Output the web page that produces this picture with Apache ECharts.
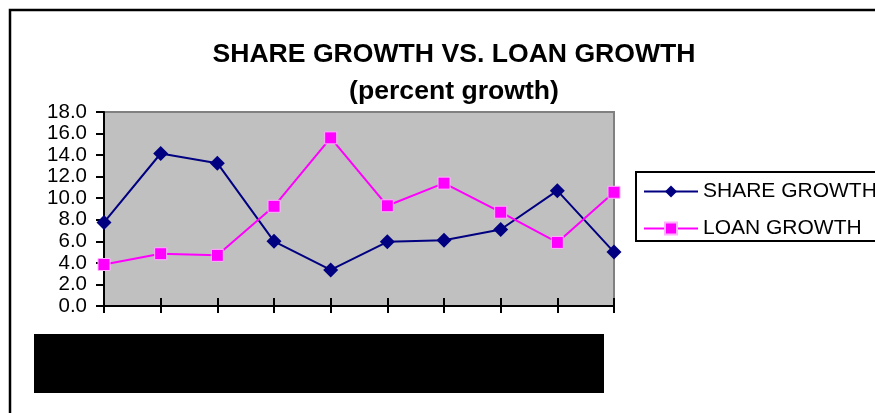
<!DOCTYPE html>
<html>
<head>
<meta charset="utf-8">
<script src="https://cdn.jsdelivr.net/npm/echarts@6/dist/echarts.min.js"></script>
<style>
  html, body { margin: 0; padding: 0; background: #fff; }
  #chart { width: 875px; height: 413px; }
</style>
</head>
<body>
<div id="chart"></div>
<script>
// periods (the original labels are unreadable pictures)
var periods = ['1', '2', '3', '4', '5', '6', '7', '8', '9', '10'];
var shareGrowth = [7.75, 14.15, 13.25, 6.0, 3.35, 5.95, 6.1, 7.1, 10.7, 5.0];
var loanGrowth = [3.85, 4.85, 4.7, 9.25, 15.6, 9.3, 11.4, 8.7, 5.9, 10.55];
var yTicks = { min: 0, max: 18, interval: 2 };

var chart = echarts.init(document.getElementById('chart'));
var font = 'Liberation Sans, Arial, sans-serif';

var option = {
  animation: false,
  title: [
    {
      text: 'SHARE GROWTH VS. LOAN GROWTH',
      left: 449, top: 36, textAlign: 'center',
      textStyle: { fontFamily: font, fontSize: 26.6, fontWeight: 'bold', color: '#000' }
    },
    {
      text: '(percent growth)',
      left: 449, top: 73, textAlign: 'center',
      textStyle: { fontFamily: font, fontSize: 26.6, fontWeight: 'bold', color: '#000' }
    }
  ],
  legend: {
    orient: 'vertical',
    left: 636, top: 172,
    padding: [9, 30, 2, 7],
    itemGap: 16,
    itemWidth: 54, itemHeight: 15,
    borderColor: '#000', borderWidth: 2,
    textStyle: { fontFamily: font, fontSize: 21, color: '#000' },
    data: ['SHARE GROWTH', 'LOAN GROWTH']
  },
  grid: {
    left: 104, top: 112, right: 261, bottom: 107,
    show: true, backgroundColor: '#c0c0c0', borderColor: '#808080', borderWidth: 2
  },
  xAxis: [
    {
      type: 'category', data: periods, boundaryGap: false,
      axisLine: { lineStyle: { color: '#000', width: 2 } },
      axisTick: { show: true, length: 7, lineStyle: { color: '#000', width: 2 } },
      axisLabel: { show: false },
      splitLine: { show: false }
    },
    {
      type: 'category', data: periods, boundaryGap: false, position: 'bottom',
      axisLine: { show: false },
      axisTick: { show: true, inside: true, length: 8, lineStyle: { color: '#000', width: 2 } },
      axisLabel: { show: false },
      splitLine: { show: false }
    }
  ],
  yAxis: {
    type: 'value', min: yTicks.min, max: yTicks.max, interval: yTicks.interval,
    axisLine: { show: true, lineStyle: { color: '#000', width: 2 } },
    axisTick: { show: true, length: 8, lineStyle: { color: '#000', width: 2 } },
    axisLabel: {
      margin: 17, fontFamily: font, fontSize: 20.5, color: '#000',
      formatter: function (v) { return v.toFixed(1); }
    },
    splitLine: { show: false }
  },
  series: [
    {
      name: 'SHARE GROWTH', type: 'line', data: shareGrowth,
      symbol: 'diamond', symbolSize: 15,
      lineStyle: { color: '#000080', width: 2 },
      itemStyle: { color: '#000080' }
    },
    {
      name: 'LOAN GROWTH', type: 'line', data: loanGrowth,
      symbol: 'rect', symbolSize: 12,
      lineStyle: { color: '#ff00ff', width: 2 },
      itemStyle: { color: '#ff00ff', borderColor: '#ffb0ff', borderWidth: 1 }
    }
  ],
  graphic: [
    {
      type: 'rect', silent: true,
      shape: { x: 10, y: 10, width: 900, height: 450 },
      style: { fill: null, stroke: '#000', lineWidth: 2.5 }
    },
    {
      // picture strip where the category labels were
      type: 'rect', silent: true,
      shape: { x: 34, y: 334, width: 570, height: 59 },
      style: { fill: '#000' }
    }
  ]
};

chart.setOption(option);
</script>
</body>
</html>
